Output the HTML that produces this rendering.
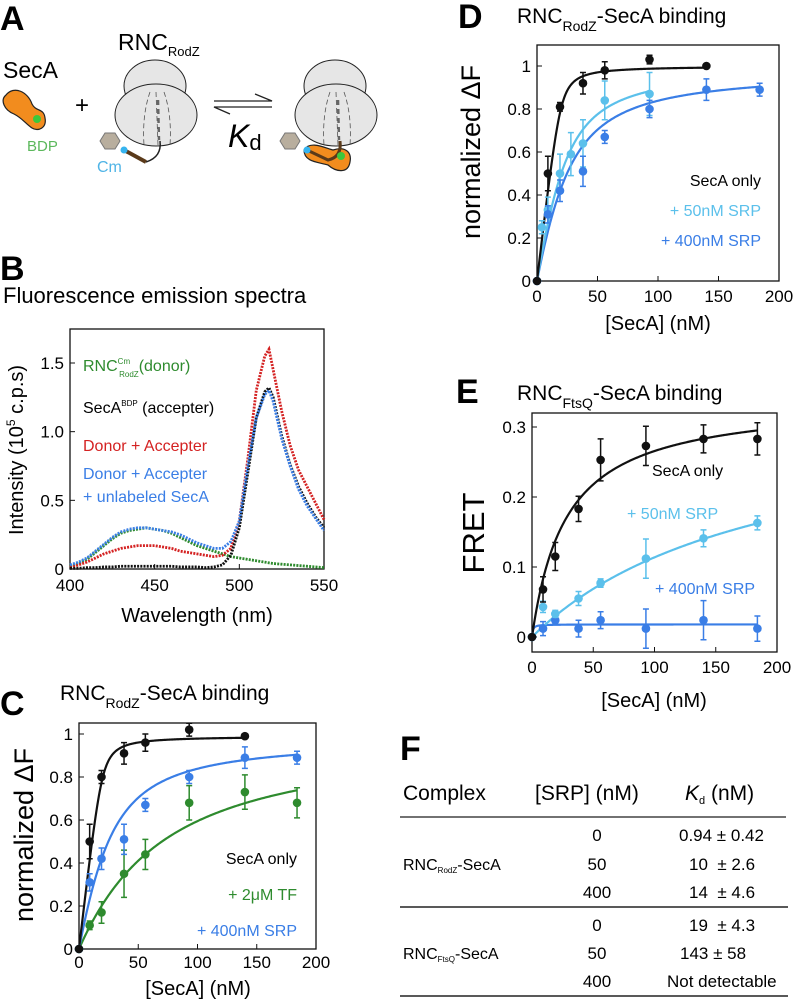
<!DOCTYPE html>
<html><head><meta charset="utf-8">
<style>
body{margin:0;background:#fff;}
#root{position:relative;width:793px;height:1007px;overflow:hidden;font-family:"Liberation Sans",Arial,sans-serif;}
svg{position:absolute;left:0;top:0;}
text{white-space:pre;}
</style></head>
<body>
<div id="root">
<svg id="fig" width="793" height="1007" viewBox="0 0 793 1007" font-family="Liberation Sans, Arial, sans-serif">
<text x="0" y="30" font-size="34" font-weight="bold">A</text>
<text x="0" y="280" font-size="34" font-weight="bold">B</text>
<text x="0" y="715" font-size="34" font-weight="bold">C</text>
<text x="458" y="28" font-size="34" font-weight="bold">D</text>
<text x="456" y="403" font-size="34" font-weight="bold">E</text>
<text x="400" y="760" font-size="34" font-weight="bold">F</text>

<g>
<text x="3" y="78" font-size="23">SecA</text>
<path d="M6,95 C14,85 28,92 32,104 C36,112 44,108 45,118 C47,128 38,132 32,128 C26,124 22,118 14,114 C4,110 0,100 6,95 Z" fill="#f28c1e" stroke="#222" stroke-width="1.2"/>
<circle cx="37" cy="119" r="4" fill="#3cc83c"/>
<text x="27" y="151" font-size="15" fill="#5cb85c">BDP</text>
<text x="75" y="113" font-size="24">+</text>
<text x="118" y="50" font-size="23">RNC<tspan font-size="13" dy="6">RodZ</tspan></text>
<g>
<ellipse cx="155" cy="86" rx="31" ry="26" fill="#e6e6e6" stroke="#222" stroke-width="1"/>
<ellipse cx="156" cy="115" rx="41" ry="31" fill="#e6e6e6" stroke="#222" stroke-width="1"/>
<path d="M156,92 L158,145 M150,92 Q142,115 144,145 M164,92 Q172,115 170,145" stroke="#555" stroke-width="0.8" stroke-dasharray="5,3" fill="none"/>
<path d="M158,100 L159,140" stroke="#666" stroke-width="2.5" stroke-dasharray="5,4"/>
<path d="M160,141 Q162,157 146,162" stroke="#222" stroke-width="1.5" fill="none"/>
<path d="M146,162 L124,150" stroke="#5a3a1a" stroke-width="4"/>
<polygon points="100,141 105,133 115,133 120,141 115,149 105,149" fill="#b8ae9e" stroke="#777" stroke-width="1"/>
<circle cx="124" cy="150" r="3.5" fill="#36b4ef"/>
</g>
<text x="97" y="172" font-size="16" fill="#4fb4e6">Cm</text>
<g stroke="#222" stroke-width="1.3" fill="none">
<path d="M214,101 L272,101 L255,94"/><path d="M272,107 L214,107 L230,114"/>
</g>
<text x="228" y="147" font-size="32" font-style="italic">K<tspan font-style="normal" font-size="22" dy="3">d</tspan></text>
<g>
<ellipse cx="335" cy="86" rx="31" ry="26" fill="#e6e6e6" stroke="#222" stroke-width="1"/>
<ellipse cx="336" cy="115" rx="41" ry="31" fill="#e6e6e6" stroke="#222" stroke-width="1"/>
<path d="M336,92 L338,145 M330,92 Q322,115 324,145 M344,92 Q352,115 350,145" stroke="#555" stroke-width="0.8" stroke-dasharray="5,3" fill="none"/>
<path d="M338,100 L339,140" stroke="#666" stroke-width="2.5" stroke-dasharray="5,4"/>
<path d="M304,150 C310,140 325,148 333,150 C345,146 352,152 350,162 C348,174 336,172 328,165 C318,162 304,162 304,150 Z" fill="#f28c1e" stroke="#222" stroke-width="1.2"/>
<path d="M340,141 Q342,157 328,160 L307,150" stroke="#5a3a1a" stroke-width="3" fill="none"/>
<circle cx="341" cy="156" r="4" fill="#3cc83c"/>
<polygon points="280,141 285,133 295,133 300,141 295,149 285,149" fill="#b8ae9e" stroke="#777" stroke-width="1"/>
<circle cx="307" cy="150" r="3.5" fill="#36b4ef"/>
</g>
</g>

<text x="3" y="303" font-size="22">Fluorescence emission spectra</text>
<text transform="translate(23,450) rotate(-90)" text-anchor="middle" font-size="20">Intensity (10<tspan font-size="12" dy="-8">5</tspan><tspan dy="8"> c.p.s)</tspan></text>
<text x="197" y="622" text-anchor="middle" font-size="20">Wavelength (nm)</text>
<text x="83" y="371" font-size="16" fill="#2e8b2e">RNC<tspan font-size="8" dy="-7">Cm</tspan><tspan font-size="8" dx="-11" dy="13">RodZ</tspan><tspan dy="-6">(donor)</tspan></text>
<text x="83" y="413" font-size="16">SecA<tspan font-size="8" dy="-7">BDP</tspan><tspan dy="7"> (accepter)</tspan></text>
<text x="83" y="451" font-size="16" fill="#d42222">Donor + Accepter</text>
<text x="83" y="479" font-size="16" fill="#3a7ee6">Donor + Accepter</text>
<text x="83" y="502" font-size="16" fill="#3a7ee6">+ unlabeled SecA</text>

<text x="60" y="700" font-size="21">RNC<tspan font-size="14" dy="8">RodZ</tspan><tspan dy="-8">-SecA binding</tspan></text>
<text transform="translate(33,835) rotate(-90)" text-anchor="middle" font-size="27">normalized ΔF</text>
<text x="198" y="995" text-anchor="middle" font-size="20">[SecA] (nM)</text>
<text x="297" y="864" text-anchor="end" font-size="16">SecA only</text>
<text x="297" y="900" text-anchor="end" font-size="16" fill="#2e8b2e">+ 2μM TF</text>
<text x="297" y="936" text-anchor="end" font-size="16" fill="#3a7ee6">+ 400nM SRP</text>

<text x="517" y="23" font-size="21">RNC<tspan font-size="14" dy="8">RodZ</tspan><tspan dy="-8">-SecA binding</tspan></text>
<text transform="translate(480,152) rotate(-90)" text-anchor="middle" font-size="27">normalized ΔF</text>
<text x="658" y="330" text-anchor="middle" font-size="20">[SecA] (nM)</text>
<text x="761" y="186" text-anchor="end" font-size="16">SecA only</text>
<text x="761" y="216" text-anchor="end" font-size="16" fill="#5bc0eb">+ 50nM SRP</text>
<text x="761" y="246" text-anchor="end" font-size="16" fill="#3a7ee6">+ 400nM SRP</text>

<text x="517" y="400" font-size="21">RNC<tspan font-size="14" dy="8">FtsQ</tspan><tspan dy="-8">-SecA binding</tspan></text>
<text transform="translate(484,533) rotate(-90)" text-anchor="middle" font-size="31">FRET</text>
<text x="654" y="707" text-anchor="middle" font-size="20">[SecA] (nM)</text>
<text x="652" y="476" font-size="16">SecA only</text>
<text x="627" y="519" font-size="16" fill="#5bc0eb">+ 50nM SRP</text>
<text x="655" y="594" font-size="16" fill="#3a7ee6">+ 400nM SRP</text>

<g font-size="21">
<text x="403" y="800">Complex</text>
<text x="535" y="800">[SRP] (nM)</text>
<text x="685" y="800"><tspan font-style="italic">K</tspan><tspan font-size="11" dy="4">d</tspan><tspan dy="-4"> (nM)</tspan></text>
<line x1="400" y1="817" x2="786" y2="817" stroke="#444" stroke-width="1.5"/>
<line x1="400" y1="907" x2="788" y2="907" stroke="#222" stroke-width="1.5"/>
<line x1="400" y1="996" x2="788" y2="996" stroke="#222" stroke-width="1.5"/>
<g font-size="16">
<text x="403" y="870">RNC<tspan font-size="8" dy="3">RodZ</tspan><tspan dy="-3">-SecA</tspan></text>
<text x="403" y="959">RNC<tspan font-size="8" dy="3">FtsQ</tspan><tspan dy="-3">-SecA</tspan></text>
<g text-anchor="middle" font-size="17">
<text x="597" y="841">0</text><text x="597" y="870">50</text><text x="597" y="898">400</text>
<text x="597" y="931">0</text><text x="597" y="959">50</text><text x="597" y="987">400</text>
</g>
<g font-size="17">
<text x="679" y="841">0.94 ± 0.42</text>
<text x="689" y="870">10  ± 2.6</text>
<text x="689" y="898">14  ± 4.6</text>
<text x="689" y="931">19  ± 4.3</text>
<text x="680" y="959">143 ± 58</text>
<text x="667" y="987">Not detectable</text>
</g>
</g>
</g>
<g id="plots"></g>
</svg>
</div>
<script>
const bWavelengths = [400,405,410,415,420,425,430,435,440,445,450,455,460,465,470,475,480,485,490,495,500,505,510,515,517.5,520,525,530,535,540,545,550];
const bDonor =      [0.02,0.04,0.07,0.12,0.17,0.22,0.26,0.28,0.29,0.30,0.29,0.28,0.26,0.23,0.20,0.17,0.15,0.13,0.11,0.09,0.08,0.07,0.06,0.05,0.045,0.04,0.035,0.03,0.025,0.02,0.015,0.01];
const bAcceptor =   [0.005,0.005,0.01,0.01,0.015,0.015,0.02,0.02,0.02,0.02,0.02,0.02,0.02,0.015,0.015,0.015,0.01,0.015,0.03,0.10,0.30,0.70,1.10,1.29,1.32,1.25,0.97,0.76,0.60,0.48,0.38,0.30];
const bDonorAcc =   [0.01,0.03,0.05,0.08,0.11,0.13,0.15,0.16,0.17,0.17,0.17,0.16,0.15,0.13,0.12,0.11,0.10,0.09,0.10,0.15,0.35,0.80,1.30,1.55,1.60,1.45,1.15,0.90,0.72,0.60,0.48,0.36];
const bUnlabeled =  [0.03,0.05,0.08,0.13,0.18,0.23,0.27,0.29,0.30,0.30,0.29,0.28,0.27,0.25,0.22,0.19,0.17,0.15,0.15,0.20,0.35,0.75,1.10,1.27,1.30,1.22,0.95,0.75,0.58,0.46,0.37,0.28];
const bXTicks = [400,450,500,550];
const bYTicks = [0,0.5,1.0,1.5];
const bYTickLabels = ["0","0.5","1.0","1.5"];

const cBlackX = [0,9,19,38,56,93,140];
const cBlackY = [0,0.50,0.80,0.91,0.96,1.02,0.99];
const cBlackErr = [0,0.08,0.03,0.05,0.04,0.03,0];
const cBlueX = [0,9,19,38,56,93,140,184];
const cBlueY = [0,0.31,0.42,0.51,0.67,0.80,0.89,0.89];
const cBlueErr = [0,0.04,0.05,0.07,0.03,0.03,0.05,0.03];
const cGreenX = [0,9,19,38,56,93,140,184];
const cGreenY = [0,0.11,0.17,0.35,0.44,0.68,0.73,0.68];
const cGreenErr = [0,0.02,0.05,0.11,0.07,0.08,0.08,0.07];

const dBlackX = [0,9,19,38,56,93,140];
const dBlackY = [0,0.50,0.81,0.92,0.98,1.03,1.00];
const dBlackErr = [0,0.08,0.02,0.05,0.04,0.02,0];
const dLightX = [0,4,9,19,28,38,56,93];
const dLightY = [0,0.25,0.33,0.50,0.59,0.64,0.84,0.87];
const dLightErr = [0,0.03,0.06,0.09,0.10,0.11,0.09,0.10];
const dBlueX = [0,9,19,38,56,93,140,184];
const dBlueY = [0,0.31,0.42,0.51,0.67,0.80,0.89,0.89];
const dBlueErr = [0,0.04,0.05,0.07,0.03,0.04,0.05,0.03];
const dfYTicks = [0,0.2,0.4,0.6,0.8,1];
const dfYTickLabels = ["0","0.2","0.4","0.6","0.8","1"];
const concXTicks = [0,50,100,150,200];

const eX = [0,9,19,38,56,93,140,184];
const eBlackY = [0,0.068,0.115,0.183,0.253,0.273,0.283,0.283];
const eBlackErr = [0,0.018,0.02,0.018,0.03,0.028,0.02,0.023];
const eLightY = [0,0.043,0.033,0.055,0.077,0.112,0.141,0.163];
const eLightErr = [0,0.008,0.005,0.01,0.006,0.028,0.012,0.01];
const eBlueY = [0,0.012,0.024,0.012,0.024,0.012,0.024,0.012];
const eBlueErr = [0,0.01,0.005,0.012,0.012,0.028,0.028,0.018];
const eYTicks = [0,0.1,0.2,0.3];
const eYTickLabels = ["0","0.1","0.2","0.3"];

const cFitBlack = [0.99,20,0.94,140], cFitBlue = [0.98,20,14,184], cFitGreen = [1.0,20,60,184];
const dFitBlack = [1.0,20,0.94,140], dFitLight = [1.0,20,10,93], dFitBlue = [0.98,20,14,184];
const eFitBlack = [0.34,0,28,184], eFitLight = [0.33,0,190,184], eFitBlue = [0.018,0,0.6,184];

const NS = "http://www.w3.org/2000/svg";
const plots = document.getElementById('plots');
function mk(tag, attrs, parent){
  const e = document.createElementNS(NS, tag);
  for (const k in attrs) e.setAttribute(k, attrs[k]);
  (parent||plots).appendChild(e);
  return e;
}
function makeAxes(cfg){
  const sx = v => cfg.x0 + (v - cfg.xmin)/(cfg.xmax - cfg.xmin)*(cfg.x1 - cfg.x0);
  const sy = v => cfg.y0 - (v - cfg.ymin)/(cfg.ymax - cfg.ymin)*(cfg.y0 - cfg.y1);
  const g = mk('g', {});
  
  
  const r = mk('rect', {x:cfg.bl, y:cfg.bt, width:cfg.br-cfg.bl, height:cfg.bb-cfg.bt, fill:'none', stroke:'#111', 'stroke-width':1.3}, g);
  
  
  cfg.xticks.forEach((t,i) => {
    const x = sx(t);
    mk('line', {x1:x, x2:x, y1:cfg.bb, y2:cfg.bb-5, stroke:'#111', 'stroke-width':1}, g);
    const tx = mk('text', {x:x, y:cfg.bb+cfg.xlabOff, 'text-anchor':'middle', 'font-size':cfg.fs}, g);
    tx.textContent = String(t);
    
    
  });
  cfg.yticks.forEach((t,i) => {
    const y = sy(t);
    mk('line', {x1:cfg.bl, x2:cfg.bl+5, y1:y, y2:y, stroke:'#111', 'stroke-width':1}, g);
    const ty = mk('text', {x:cfg.bl-6, y:y+6, 'text-anchor':'end', 'font-size':cfg.fs}, g);
    ty.textContent = cfg.ylabels[i];
    
    
  });
  return {sx, sy};
}
function binding(p, x){
  const [A,R,K] = p;
  if (R === 0) return A*x/(K+x);
  const b = R + x + K;
  return A*(b - Math.sqrt(b*b - 4*R*x))/(2*R);
}
function fitCurve(ax, p, color, name){
  let d = '';
  for (let i=0;i<=200;i++){
    const x = p[3]*i/200;
    d += (i?'L':'M') + ax.sx(x).toFixed(2) + ',' + ax.sy(binding(p,x)).toFixed(2);
  }
  const c = mk('path', {d:d, fill:'none', stroke:color, 'stroke-width':2.2});
  
  
}
function points(ax, xs, ys, errs, color, name){
  xs.forEach((x,i) => {
    const cx = ax.sx(x), cy = ax.sy(ys[i]);
    if (errs[i] > 0){
      const y1 = ax.sy(ys[i]+errs[i]), y2 = ax.sy(ys[i]-errs[i]);
      const eb = mk('path', {d:`M${cx},${y1}L${cx},${y2}M${cx-3},${y1}L${cx+3},${y1}M${cx-3},${y2}L${cx+3},${y2}`, stroke:color, 'stroke-width':1.5, fill:'none'});
      
      
    }
    const c = mk('circle', {cx:cx, cy:cy, r:4.3, fill:color});
    
    
  });
}
function spectrum(ax, xs, ys, color, name){
  let d = '';
  xs.forEach((x,i) => { d += (i?'L':'M') + ax.sx(x).toFixed(2) + ',' + ax.sy(ys[i]).toFixed(2); });
  const p = mk('path', {d:d, fill:'none', stroke:color, 'stroke-width':2.8, 'stroke-dasharray':'2,1.2'});
  
  
}

const BLACK = '#111', BLUE = '#3a7ee6', LIGHT = '#5bc0eb', GREEN = '#2e8b2e', RED = '#d42222';

const axB = makeAxes({name:'panel-b', bl:70, br:324, bt:329, bb:569, x0:70, x1:324, xmin:400, xmax:550, y0:569, y1:363, ymin:0, ymax:1.5, xticks:bXTicks, yticks:bYTicks, ylabels:bYTickLabels, fs:17, xlabOff:22});
spectrum(axB, bWavelengths, bDonor, GREEN, 'spectrum-donor');
spectrum(axB, bWavelengths, bDonorAcc, RED, 'spectrum-donor-acceptor');
spectrum(axB, bWavelengths, bAcceptor, BLACK, 'spectrum-acceptor');
spectrum(axB, bWavelengths, bUnlabeled, BLUE, 'spectrum-unlabeled-seca');

const axC = makeAxes({name:'panel-c', bl:79, br:316, bt:723, bb:949, x0:79, x1:316, xmin:0, xmax:200, y0:949, y1:734, ymin:0, ymax:1, xticks:concXTicks, yticks:dfYTicks, ylabels:dfYTickLabels, fs:17, xlabOff:19});
fitCurve(axC, cFitGreen, GREEN, 'panel-c-fit-tf');
fitCurve(axC, cFitBlue, BLUE, 'panel-c-fit-400srp');
fitCurve(axC, cFitBlack, BLACK, 'panel-c-fit-seca-only');
points(axC, cGreenX, cGreenY, cGreenErr, GREEN, 'panel-c-tf');
points(axC, cBlueX, cBlueY, cBlueErr, BLUE, 'panel-c-400srp');
points(axC, cBlackX, cBlackY, cBlackErr, BLACK, 'panel-c-seca-only');

const axD = makeAxes({name:'panel-d', bl:537, br:779, bt:45, bb:281, x0:537, x1:779, xmin:0, xmax:200, y0:281, y1:66, ymin:0, ymax:1, xticks:concXTicks, yticks:dfYTicks, ylabels:dfYTickLabels, fs:17, xlabOff:21});
fitCurve(axD, dFitBlue, BLUE, 'panel-d-fit-400srp');
fitCurve(axD, dFitLight, LIGHT, 'panel-d-fit-50srp');
fitCurve(axD, dFitBlack, BLACK, 'panel-d-fit-seca-only');
points(axD, dLightX, dLightY, dLightErr, LIGHT, 'panel-d-50srp');
points(axD, dBlueX, dBlueY, dBlueErr, BLUE, 'panel-d-400srp');
points(axD, dBlackX, dBlackY, dBlackErr, BLACK, 'panel-d-seca-only');

const axE = makeAxes({name:'panel-e', bl:532, br:777, bt:413, bb:652, x0:532, x1:777, xmin:0, xmax:200, y0:637, y1:427, ymin:0, ymax:0.3, xticks:concXTicks, yticks:eYTicks, ylabels:eYTickLabels, fs:17, xlabOff:21});
fitCurve(axE, eFitBlue, BLUE, 'panel-e-fit-400srp');
fitCurve(axE, eFitLight, LIGHT, 'panel-e-fit-50srp');
fitCurve(axE, eFitBlack, BLACK, 'panel-e-fit-seca-only');
points(axE, eX, eBlueY, eBlueErr, BLUE, 'panel-e-400srp');
points(axE, eX, eLightY, eLightErr, LIGHT, 'panel-e-50srp');
points(axE, eX, eBlackY, eBlackErr, BLACK, 'panel-e-seca-only');
</script>
</body></html>
